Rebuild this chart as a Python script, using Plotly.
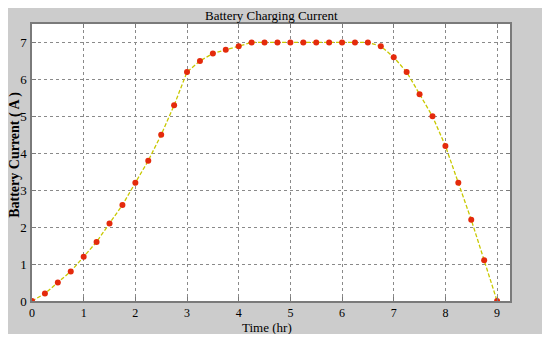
import plotly.graph_objects as go

time_hr = [0, 0.25, 0.5, 0.75, 1, 1.25, 1.5, 1.75, 2, 2.25, 2.5, 2.75, 3, 3.25, 3.5, 3.75,
           4, 4.25, 4.5, 4.75, 5, 5.25, 5.5, 5.75, 6, 6.25, 6.5, 6.75, 7, 7.25, 7.5, 7.75,
           8, 8.25, 8.5, 8.75, 9]
current_a = [0, 0.2, 0.5, 0.8, 1.2, 1.6, 2.1, 2.6, 3.2, 3.8, 4.5, 5.3, 6.2, 6.5, 6.7, 6.8,
             6.9, 7.0, 7.0, 7.0, 7.0, 7.0, 7.0, 7.0, 7.0, 7.0, 7.0, 6.9, 6.6, 6.2, 5.6, 5.0,
             4.2, 3.2, 2.2, 1.1, 0]
x_ticks = [0, 1, 2, 3, 4, 5, 6, 7, 8, 9]
y_ticks = [0, 1, 2, 3, 4, 5, 6, 7]

FONT = "Liberation Serif, Times New Roman, serif"

fig = go.Figure()
fig.add_trace(go.Scatter(
    x=time_hr, y=current_a, mode="lines+markers",
    line=dict(color="#c8c800", width=1.3, dash="4px,2px"),
    marker=dict(color="#e42a0c", size=6, line=dict(width=0)),
    showlegend=False,
))

axis_common = dict(
    showgrid=True, gridcolor="#8a8a8a", griddash="dot", gridwidth=1,
    showline=True, linecolor="#7a7a7a", linewidth=1.5, mirror="ticks",
    ticks="inside", ticklen=4, tickcolor="#7a7a7a",
    zeroline=False, automargin=False,
)

fig.update_layout(
    width=536, height=326,
    margin=dict(l=24, r=34, t=16, b=33),
    paper_bgcolor="#cccccc", plot_bgcolor="white",
    xaxis=dict(range=[0, 9.25], tickvals=x_ticks, ticklabelstandoff=0,
               tickfont=dict(family=FONT, size=12, color="black"), **axis_common),
    yaxis=dict(range=[0, 7.5], tickvals=y_ticks, ticklabelstandoff=1,
               tickfont=dict(family=FONT, size=13, color="black"), **axis_common),
    annotations=[
        dict(text="Battery Charging Current", xref="paper", yref="paper",
             x=0.5, y=1.029, xanchor="center", yanchor="middle", showarrow=False,
             font=dict(family=FONT, size=13, color="black")),
        dict(text="Time (hr)", xref="paper", yref="paper",
             x=0.492, y=-0.097, xanchor="center", yanchor="middle", showarrow=False,
             font=dict(family=FONT, size=13, color="black")),
        dict(text="<b>Battery Current ( A )</b>", xref="paper", yref="paper",
             x=-0.036, y=0.527, xanchor="center", yanchor="middle", showarrow=False,
             textangle=-90, font=dict(family=FONT, size=14, color="black")),
    ],
)

fig.write_html("out.html")
